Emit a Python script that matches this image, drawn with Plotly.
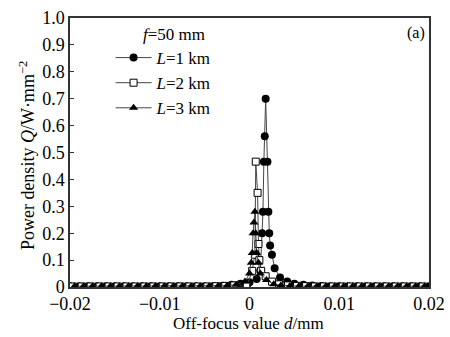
import plotly.graph_objects as go

# ---------------- data ----------------
x_L1 = [-0.020, -0.019, -0.018, -0.017, -0.016, -0.015, -0.014, -0.013, -0.012, -0.011,
        -0.010, -0.009, -0.008, -0.007, -0.006, -0.005, -0.004, -0.003, -0.002, -0.001,
        0.0000, 0.0008, 0.0012, 0.0014, 0.0015, 0.0016, 0.0017, 0.0018, 0.0020, 0.0021,
        0.0022, 0.0023, 0.0025, 0.0028, 0.0034, 0.0042, 0.0050, 0.0060, 0.0070, 0.0080,
        0.0090, 0.0100, 0.0110, 0.0120, 0.0130, 0.0140, 0.0150, 0.0160, 0.0170, 0.0180,
        0.0190, 0.0200]
y_L1 = [0.003, 0.003, 0.003, 0.003, 0.003, 0.003, 0.003, 0.003, 0.003, 0.003,
        0.003, 0.003, 0.003, 0.003, 0.003, 0.003, 0.004, 0.005, 0.008, 0.012,
        0.018, 0.030, 0.060, 0.200, 0.280, 0.466, 0.560, 0.700, 0.466, 0.280,
        0.200, 0.154, 0.120, 0.070, 0.035, 0.020, 0.012, 0.008, 0.006, 0.004,
        0.003, 0.003, 0.003, 0.003, 0.003, 0.003, 0.003, 0.003, 0.003, 0.003,
        0.003, 0.003]

x_L2 = [-0.0197, -0.0187, -0.0177, -0.0167, -0.0157, -0.0147, -0.0137, -0.0127, -0.0117, -0.0107,
        -0.0097, -0.0087, -0.0077, -0.0067, -0.0057, -0.0047, -0.0037, -0.0027, -0.0017, -0.0003,
        0.0003, 0.0006, 0.0007, 0.0009, 0.0010, 0.0011, 0.0013, 0.0018, 0.0025, 0.0033,
        0.0043, 0.0053, 0.0063, 0.0073, 0.0083, 0.0093, 0.0103, 0.0113, 0.0123, 0.0133,
        0.0143, 0.0153, 0.0163, 0.0173, 0.0183, 0.0193]
y_L2 = [0.002, 0.002, 0.002, 0.002, 0.002, 0.002, 0.002, 0.002, 0.002, 0.002,
        0.002, 0.002, 0.002, 0.002, 0.002, 0.002, 0.003, 0.004, 0.006, 0.003,
        0.060, 0.120, 0.466, 0.350, 0.160, 0.100, 0.060, 0.040, 0.020, 0.010,
        0.006, 0.004, 0.003, 0.002, 0.002, 0.002, 0.002, 0.002, 0.002, 0.002,
        0.002, 0.002, 0.002, 0.002, 0.002, 0.002]

x_L3 = [-0.0195, -0.0185, -0.0175, -0.0165, -0.0155, -0.0145, -0.0135, -0.0125, -0.0115, -0.0105,
        -0.0095, -0.0085, -0.0075, -0.0065, -0.0055, -0.0045, -0.0035, -0.0025, -0.0015, -0.0005,
        0.0000, 0.0002, 0.0003, 0.0004, 0.0005, 0.0006, 0.0007, 0.0008, 0.0010, 0.0012,
        0.0019, 0.0027, 0.0035, 0.0045, 0.0055, 0.0065, 0.0075, 0.0085, 0.0095, 0.0105,
        0.0115, 0.0125, 0.0135, 0.0145, 0.0155, 0.0165, 0.0175, 0.0185, 0.0195]
y_L3 = [0.003, 0.003, 0.003, 0.003, 0.003, 0.003, 0.003, 0.003, 0.003, 0.003,
        0.003, 0.003, 0.003, 0.003, 0.003, 0.003, 0.004, 0.005, 0.008, 0.020,
        0.050, 0.090, 0.126, 0.200, 0.240, 0.280, 0.200, 0.126, 0.090, 0.050,
        0.026, 0.010, 0.006, 0.004, 0.003, 0.003, 0.003, 0.003, 0.003, 0.003,
        0.003, 0.003, 0.003, 0.003, 0.003, 0.003, 0.003, 0.003, 0.003]

y_tickvals = [0, 0.1, 0.2, 0.3, 0.4, 0.5, 0.6, 0.7, 0.8, 0.9, 1.0]
y_ticktext = ["0", "0.1", "0.2", "0.3", "0.4", "0.5", "0.6", "0.7", "0.8", "0.9", "1.0"]
x_tickvals = [-0.02, -0.01, 0, 0.01, 0.02]
x_ticktext = ["\u22120.02", "\u22120.01", "0", "0.01", "0.02"]

FONT = "Liberation Serif"

fig = go.Figure()
fig.add_trace(go.Scatter(
    x=x_L1, y=y_L1, mode="lines+markers", name="<i>L</i>=1 km",
    line=dict(color="#444444", width=1),
    marker=dict(symbol="circle", size=8, color="black"),
))
fig.add_trace(go.Scatter(
    x=x_L2, y=y_L2, mode="lines+markers", name="<i>L</i>=2 km",
    line=dict(color="#444444", width=1),
    marker=dict(symbol="square", size=7, color="white", line=dict(color="black", width=1)),
))
fig.add_trace(go.Scatter(
    x=x_L3, y=y_L3, mode="lines+markers", name="<i>L</i>=3 km",
    line=dict(color="#444444", width=1),
    marker=dict(symbol="triangle-up", size=8, color="black"),
))

fig.update_layout(
    width=450, height=337,
    margin=dict(l=70, r=21, t=18, b=50),
    paper_bgcolor="white", plot_bgcolor="white",
    font=dict(family=FONT, size=18, color="black"),
    showlegend=True,
    legend=dict(
        x=0.113, y=0.918, xanchor="left", yanchor="top",
        bgcolor="rgba(0,0,0,0)", borderwidth=0,
        font=dict(family=FONT, size=17),
        itemwidth=36, tracegroupgap=0,
    ),
    annotations=[
        dict(text="<i>f</i>=50 mm", x=0.29, y=0.94, xref="paper", yref="paper",
             xanchor="center", yanchor="middle", showarrow=False,
             font=dict(family=FONT, size=17)),
        dict(text="(a)", x=0.995, y=0.945, xref="paper", yref="paper",
             xanchor="right", yanchor="middle", showarrow=False,
             font=dict(family=FONT, size=16)),
        dict(text="Power density <i>Q</i>/W\u00b7mm<sup>\u22122</sup>",
             x=-0.12, y=0.49, xref="paper", yref="paper", textangle=-90,
             xanchor="center", yanchor="middle", showarrow=False,
             font=dict(family=FONT, size=18)),
        dict(text="Off-focus value <i>d</i>/mm",
             x=0.497, y=-0.135, xref="paper", yref="paper",
             xanchor="center", yanchor="middle", showarrow=False,
             font=dict(family=FONT, size=17)),
    ],
)

fig.update_xaxes(
    range=[-0.02, 0.02], tickvals=x_tickvals, ticktext=x_ticktext,
    showline=True, linecolor="#333333", linewidth=1.5, mirror=True,
    ticks="inside", ticklen=4, tickcolor="#333333",
    showgrid=False, zeroline=False, automargin=False,
    tickfont=dict(family=FONT, size=18),
)
fig.update_yaxes(
    range=[0, 1.0], tickvals=y_tickvals, ticktext=y_ticktext,
    showline=True, linecolor="#333333", linewidth=1.5, mirror=True,
    ticks="inside", ticklen=4, tickcolor="#333333",
    showgrid=False, zeroline=False, automargin=False,
    tickfont=dict(family=FONT, size=18),
)

fig.write_html("out.html")
